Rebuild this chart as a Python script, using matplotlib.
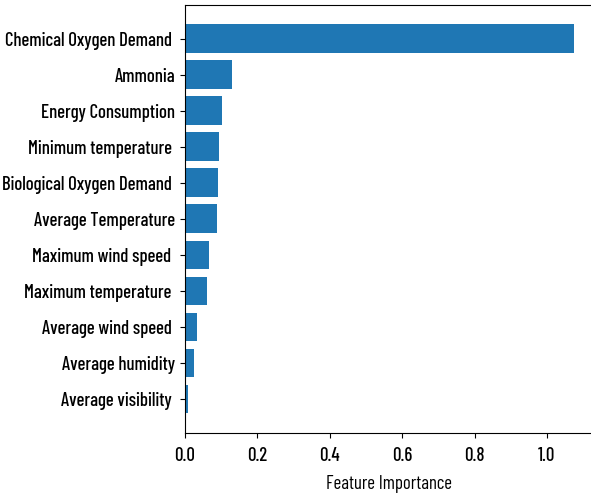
import matplotlib

matplotlib.use("Agg")
import matplotlib.pyplot as plt

features = [
    "Chemical Oxygen Demand ",
    "Ammonia",
    "Energy Consumption",
    "Minimum temperature ",
    "Biological Oxygen Demand ",
    "Average Temperature",
    "Maximum wind speed ",
    "Maximum temperature ",
    "Average wind speed ",
    "Average humidity",
    "Average visibility ",
]
importance = [1.076, 0.130, 0.103, 0.093, 0.090, 0.089, 0.066, 0.060, 0.032, 0.026, 0.008]
xticks = [0.0, 0.2, 0.4, 0.6, 0.8, 1.0]

plt.rcParams["font.family"] = ["Barlow Condensed", "DejaVu Sans"]
plt.rcParams["font.size"] = 13.5
plt.rcParams["font.weight"] = 500

fig = plt.figure(figsize=(5.91, 4.93), dpi=100)
ax = fig.add_axes([0.313, 0.122, 0.692, 0.868])
ax.barh(features[::-1], importance[::-1], color="#1f77b4")
ax.set_xlabel("Feature Importance", labelpad=7)
ax.set_xticks(xticks)
ax.tick_params(axis="x", pad=7)
fig.savefig("out.png", dpi=100)
